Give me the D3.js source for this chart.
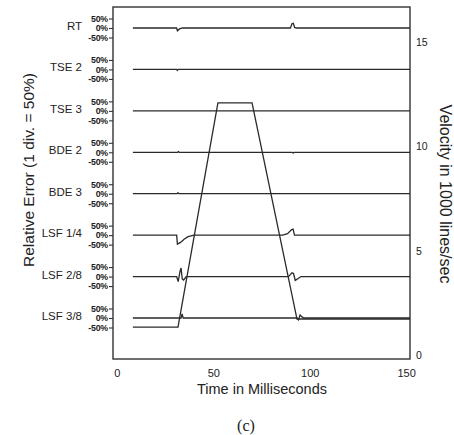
<!DOCTYPE html>
<html>
<head>
<meta charset="utf-8">
<script src="https://cdn.jsdelivr.net/npm/d3@7"></script>
<style>
  body { margin: 0; background: #fff; }
  svg text { font-family: "Liberation Sans", Arial, sans-serif; fill: #222; }
</style>
</head>
<body>
<div id="main"></div>
<script>
// row names, top to bottom
const rows = ['RT', 'TSE 2', 'TSE 3', 'BDE 2', 'BDE 3', 'LSF 1/4', 'LSF 2/8', 'LSF 3/8'];
const errTicks = [50, 0, -50];
const timeTicks = [0, 50, 100, 150];
const velTicks = [0, 5, 10, 15];

// velocity profile [ms, 1000 lines/sec]
const velocity = [[8.3, 1.33], [31.7, 1.33], [52.4, 12.1], [70.1, 12.1], [93.4, 1.72], [152, 1.72]];

// relative error traces [ms, %]
const errRT = [[8.3, 0], [31, 0], [31.4, -15], [32.5, -5], [34, 0], [90, 0], [90.8, 22], [91.5, 25], [92.2, 3], [93, 0], [152, 0]];
const errTSE2 = [[8.3, 0], [31, 0], [31.3, -5], [31.8, 0], [152, 0]];
const errTSE3 = [[8.3, 0], [152, 0]];
const errBDE2 = [[8.3, 0], [31.5, 0], [31.9, 4], [32.4, 0], [91, 0], [91.4, -4], [91.9, 0], [152, 0]];
const errBDE3 = [[8.3, 0], [31.3, 0], [31.7, 5], [32.2, 0], [152, 0]];
const errLSF14 = [[8.3, 0], [31, 0], [31.4, -47], [33, -38], [35, -20], [37, -8], [40, 0], [86, 0], [88.5, 8], [90.5, 28], [91.4, 32], [92.1, 0], [152, 0]];
const errLSF28 = [[8.3, 0], [31, 0], [31.8, -26], [32.8, 30], [33.3, 45], [33.9, -12], [34.6, -18], [36, 0], [89, 0], [90.8, 20], [91.6, 16], [92.5, -20], [94, -10], [95.5, 0], [152, 0]];
const errLSF38 = [[8.3, 0], [33.3, 0], [33.8, 22], [34.4, 0], [93.5, 0], [94.2, -10], [95, 16], [96, 6], [97, 0], [152, 0]];
const errors = [errRT, errTSE2, errTSE3, errBDE2, errBDE3, errLSF14, errLSF28, errLSF38];

class Chart {
  constructor(config) {
    this.config = config;
    this.svg = null;
    this.xScale = null;
    this.vScale = null;
    this.rowScale = null;
    this.errScale = null;

    this.createSvg();
    this.createScales();
  }

  createSvg() {
    this.svg = d3.select(this.config.div)
      .append('svg')
      .attr('width', this.config.width)
      .attr('height', this.config.height);
  }

  createScales() {
    const c = this.config;
    this.xScale = d3.scaleLinear().domain([-2, 152]).range([c.left, c.right]);
    this.vScale = d3.scaleLinear().domain([-0.2, 16.7]).range([c.bottom, c.top]);
    this.rowScale = d3.scalePoint().domain(rows).range([28, 318]);
    this.errScale = d3.scaleLinear().domain([-50, 50]).range([9.5, -9.5]);
  }

  createFrame() {
    const c = this.config;
    this.svg.append('rect')
      .attr('x', c.left)
      .attr('y', c.top)
      .attr('width', c.right - c.left)
      .attr('height', c.bottom - c.top)
      .attr('fill', 'none')
      .attr('stroke', '#333')
      .attr('stroke-width', 1.4);
  }

  createAxis() {
    const c = this.config;

    const xAxis = d3.axisBottom(this.xScale).tickValues(timeTicks).tickSize(0).tickPadding(10);
    const gx = this.svg.append('g')
      .attr('transform', `translate(0,${c.bottom})`)
      .call(xAxis);
    gx.select('.domain').remove();
    gx.selectAll('text').style('font-size', '11px').attr('fill', '#222');

    const vAxis = d3.axisRight(this.vScale).tickValues(velTicks).tickSize(0).tickPadding(6);
    const gv = this.svg.append('g')
      .attr('transform', `translate(${c.right},0)`)
      .call(vAxis);
    gv.select('.domain').remove();
    gv.selectAll('text').style('font-size', '10.5px').attr('fill', '#222');

    // one small error axis per row
    rows.forEach(r => {
      const y0 = this.rowScale(r);
      const ax = d3.axisLeft(this.errScale)
        .tickValues(errTicks)
        .tickSize(4)
        .tickPadding(1)
        .tickFormat(d => d + '%');
      const g = this.svg.append('g')
        .attr('transform', `translate(${c.left},${y0})`)
        .call(ax);
      g.select('.domain').remove();
      g.selectAll('line').attr('stroke', '#333').attr('stroke-width', 1.1);
      g.selectAll('text')
        .style('font-size', '8.8px')
        .style('font-weight', 'bold')
        .style('letter-spacing', '-0.2px')
        .attr('fill', '#333');

      this.svg.append('text')
        .attr('x', 82)
        .attr('y', y0 - 2)
        .attr('dy', '0.35em')
        .attr('text-anchor', 'end')
        .style('font-size', '11.5px')
        .text(r);
    });
  }

  createLines() {
    const errLine = d3.line()
      .x(d => this.xScale(d[0]))
      .y(d => this.errScale(d[1]));

    rows.forEach((r, i) => {
      this.svg.append('path')
        .datum(errors[i])
        .attr('transform', `translate(0,${this.rowScale(r)})`)
        .attr('d', errLine)
        .attr('fill', 'none')
        .attr('stroke', '#2a2a2a')
        .attr('stroke-width', 1.3);
    });

    const velLine = d3.line()
      .x(d => this.xScale(d[0]))
      .y(d => this.vScale(d[1]));

    this.svg.append('path')
      .datum(velocity)
      .attr('d', velLine)
      .attr('fill', 'none')
      .attr('stroke', '#2a2a2a')
      .attr('stroke-width', 1.3);
  }

  createTitles() {
    this.svg.append('text')
      .attr('x', 262)
      .attr('y', 394)
      .attr('text-anchor', 'middle')
      .style('font-size', '14.5px')
      .text('Time in Milliseconds');

    this.svg.append('text')
      .attr('transform', 'translate(34,170) rotate(-90)')
      .attr('text-anchor', 'middle')
      .style('font-size', '15.5px')
      .text('Relative Error (1 div. = 50%)');

    this.svg.append('text')
      .attr('transform', 'translate(440,194) rotate(90)')
      .attr('text-anchor', 'middle')
      .style('font-size', '16px')
      .text('Velocity in 1000 lines/sec');

    this.svg.append('text')
      .attr('x', 246)
      .attr('y', 431)
      .attr('text-anchor', 'middle')
      .style('font-family', '"Liberation Serif", "Times New Roman", serif')
      .style('font-size', '16px')
      .text('(c)');
  }
}

let c = {div: '#main', width: 454, height: 435, top: 7, left: 113, right: 410, bottom: 359};
let a = new Chart(c);
a.createFrame();
a.createAxis();
a.createLines();
a.createTitles();
</script>
</body>
</html>
